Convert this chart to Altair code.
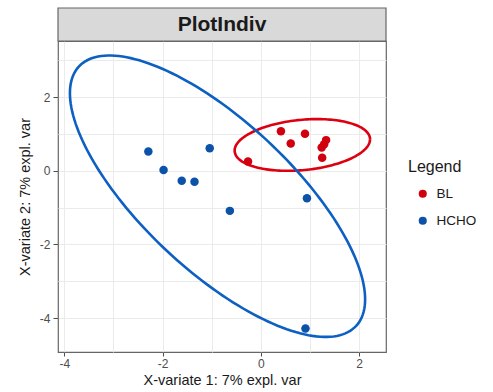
import altair as alt
import numpy as np
import pandas as pd

# ---- data ----
bl_x = [0.41, 0.90, 0.61, 1.33, 1.29, 1.24, 1.25, -0.26]
bl_y = [1.07, 1.00, 0.74, 0.83, 0.72, 0.63, 0.35, 0.25]
hcho_x = [-2.29, -1.98, -1.61, -1.35, -1.04, -0.63, 0.94, 0.91]
hcho_y = [0.52, 0.02, -0.27, -0.30, 0.61, -1.09, -0.75, -4.28]
groups = ["BL", "HCHO"]
point_colors = ["#D0000E", "#0B52A8"]
line_colors = ["#DD0010", "#0D60C2"]
x_ticks = [-4, -3, -2, -1, 0, 1, 2]
y_ticks = [-4, -3, -2, -1, 0, 1, 2, 3]
x_domain = [-4.13, 2.55]
y_domain = [-4.92, 3.52]

W, H = 328, 311

pts = pd.DataFrame({
    "x": bl_x + hcho_x,
    "y": bl_y + hcho_y,
    "group": ["BL"] * len(bl_x) + ["HCHO"] * len(hcho_x),
})

# 95% confidence ellipses (as in mixOmics plotIndiv), computed from the points
level_t = np.sqrt(-2 * np.log(1 - 0.95))
theta = np.linspace(0, 2 * np.pi, 181)
rows = []
for g, xs_, ys_ in [("BL", bl_x, bl_y), ("HCHO", hcho_x, hcho_y)]:
    xy = np.vstack([xs_, ys_])
    mu = xy.mean(axis=1)
    cov = np.cov(xy)
    L = np.linalg.cholesky(cov)
    circ = np.vstack([np.cos(theta), np.sin(theta)])
    e = mu[:, None] + level_t * (L @ circ)
    for i in range(e.shape[1]):
        rows.append({"ex": e[0, i], "ey": e[1, i], "egroup": g, "i": i})
ell = pd.DataFrame(rows)

odd = "datum.value % 2 !== 0"
xaxis = alt.Axis(
    values=x_ticks, title="X-variate 1: 7% expl. var",
    labelExpr="datum.value % 2 === 0 ? '' + datum.value : ''",
    tickOpacity={"condition": {"test": odd, "value": 0}, "value": 1},
    titleY=28, titleBaseline="middle", domain=False,
    tickSize=4, labelPadding=2,
)
yaxis = alt.Axis(
    values=y_ticks, title="X-variate 2: 7% expl. var",
    labelExpr="datum.value % 2 === 0 ? '' + datum.value : ''",
    tickOpacity={"condition": {"test": odd, "value": 0}, "value": 1},
    titleX=-33, titleY=H / 2, titleBaseline="middle", titleAngle=270,
    domain=False, tickSize=5, labelPadding=3,
)

xs = alt.Scale(domain=x_domain, nice=False, zero=False)
ys = alt.Scale(domain=y_domain, nice=False, zero=False)

ellipses = alt.Chart(ell).mark_line(strokeWidth=2.6, clip=True).encode(
    x=alt.X("ex:Q", scale=xs, axis=xaxis),
    y=alt.Y("ey:Q", scale=ys, axis=yaxis),
    stroke=alt.Stroke("egroup:N", scale=alt.Scale(domain=groups, range=line_colors),
                      legend=None),
    detail="egroup:N",
    order="i:Q",
)

points = alt.Chart(pts).mark_circle(size=72, opacity=1).encode(
    x=alt.X("x:Q", scale=xs),
    y=alt.Y("y:Q", scale=ys),
    color=alt.Color("group:N", scale=alt.Scale(domain=groups, range=point_colors),
                    title="Legend",
                    legend=alt.Legend(orient="none", legendX=350, legendY=118)),
)

strip_df = pd.DataFrame({"label": ["PlotIndiv"]})
strip = alt.Chart(strip_df).mark_rect(
    fill="#D9D9D9", stroke="#666666", strokeWidth=1.2
).encode(
    x=alt.value(0), x2=alt.value(W), y=alt.value(-33), y2=alt.value(0)
)
strip_text = alt.Chart(strip_df).mark_text(
    font="Liberation Sans", fontSize=21, fontWeight="bold", color="#1A1A1A",
    baseline="middle", align="center"
).encode(x=alt.value(W / 2), y=alt.value(-16), text="label:N")

chart = alt.layer(ellipses, points, strip, strip_text).resolve_legend(
    color="independent", stroke="independent"
).properties(
    width=W, height=H,
    autosize=alt.AutoSizeParams(type="none"),
    padding={"left": 58, "top": 41, "right": 107, "bottom": 40},
    background="white",
).configure_view(
    stroke="#666666", strokeWidth=1.2
).configure_axis(
    labelFont="Liberation Sans", titleFont="Liberation Sans",
    labelFontSize=12, labelColor="#4D4D4D", tickColor="#4D4D4D",
    titleFontSize=14.5, titleFontWeight="normal", titleColor="#1A1A1A",
    gridColor="#EBEBEB", gridWidth=1,
).configure_legend(
    titleFont="Liberation Sans", labelFont="Liberation Sans",
    titleFontSize=16, titleFontWeight="normal", titleColor="#1A1A1A",
    labelFontSize=13.5, labelColor="#1A1A1A",
    symbolType="circle", symbolSize=66, symbolStrokeWidth=0,
    symbolOffset=8, labelOffset=7, rowPadding=12, titlePadding=12,
    padding=0,
)

chart.save("out.html", embed_options={"renderer": "svg", "actions": False})
